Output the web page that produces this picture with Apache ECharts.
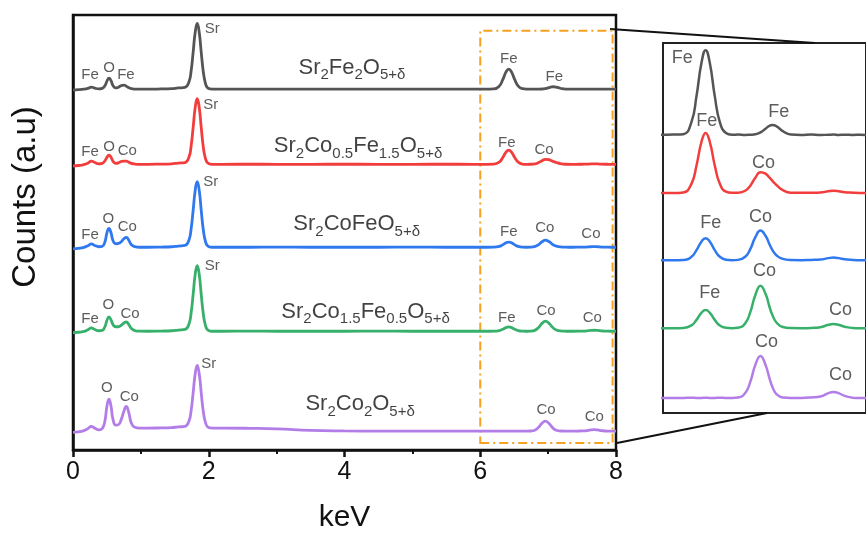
<!DOCTYPE html>
<html><head><meta charset="utf-8">
<script src="https://cdn.jsdelivr.net/npm/echarts@6/dist/echarts.min.js"></script>
<style>html,body{margin:0;padding:0;background:#fff}#c{width:866px;height:538px}</style>
</head><body><div id="c"></div>
<script>
// Energy grid (keV)
const energy = [0, 0.08, 0.16, 0.22, 0.27, 0.32, 0.38, 0.43, 0.47, 0.50, 0.53, 0.56, 0.59, 0.63, 0.67, 0.71, 0.75, 0.785, 0.82, 0.86, 0.91, 0.98, 1.1, 1.3, 1.45, 1.55, 1.65, 1.71, 1.74, 1.77, 1.80, 1.83, 1.86, 1.89, 1.92, 1.95, 1.98, 2.02,
  2.08, 2.2, 2.6, 3.0, 3.5, 4.0, 4.5, 5.0, 5.5, 5.9,
  6.1, 6.2, 6.28, 6.33, 6.38, 6.42, 6.46, 6.51, 6.56, 6.62, 6.68, 6.74, 6.81, 6.86, 6.91, 6.96, 7.01, 7.05, 7.08, 7.12, 7.18, 7.26, 7.36, 7.46, 7.55, 7.63, 7.68, 7.73, 7.79, 7.87, 7.94, 8.0];

// Counts (a.u.) above each spectrum's own baseline
const sr2fe2o5 = [-0.7, -0.5, 0, 0.8, 2, 1.0, 0.3, 0.8, 3.5, 8, 11, 8.5, 3.5, 1.2, 2, 3.6, 4, 3, 1.5, 0.5, 0.1, 0, 0, 0.2, 0.5, 1.2, 1.8, 7.6, 18.3, 36.9, 56.9, 66, 56.9, 36.4, 17.3, 6.1, 1.6, 0.2,
  0, 0, 0, 0.1, 0, 0, 0.1, 0, 0, 0,
  0.1, 0.2, 3.05, 9.25, 17.3, 20.2, 17.3, 9.25, 3.05, 0.45, 0.05, 0.1, 0, 0.05, 0.15, 0.6, 1.5, 2.2, 2.4, 2.06, 0.91, 0.1, 0, 0.1, 0, 0.05, 0.1, 0, 0.05, 0, 0.05, 0];
const sr2co05fe15o5 = [-1.7, -1.2, -0.3, 1.2, 3.3, 1.8, 0.5, 1.0, 3.5, 7, 9.3, 7.2, 3.0, 1.0, 1.5, 2.8, 3.3, 3.2, 2.2, 1.0, 0.3, 0, 0, 0.2, 0.5, 1.2, 1.8, 7.6, 18.3, 36.9, 56.9, 66, 56.9, 36.4, 17.3, 6.1, 1.6, 0.2,
  0, 0, 0.1, 0, 0, 0.1, 0, 0, 0.1, 0,
  0, 0.13, 2.16, 6.55, 12.25, 14.3, 12.25, 6.55, 2.16, 0.3, 0.02, 0.05, 0.51, 1.73, 3.64, 4.92, 4.6, 3.62, 2.82, 1.84, 0.69, 0.07, 0.02, 0.05, 0.11, 0.4, 0.5, 0.4, 0.17, 0.05, 0, 0];
const sr2cofeo5 = [-1.7, -1.2, -0.2, 1.5, 3.3, 1.8, 0.5, 0.8, 5.3, 14.5, 19, 14.5, 6.5, 3.5, 3.8, 5.5, 8.5, 10, 7.2, 2.5, 0.6, 0, 0, 0.2, 0.5, 1.2, 1.8, 7.6, 18.3, 36.9, 56.9, 66, 56.9, 36.4, 17.3, 6.1, 1.6, 0.2,
  0, 0, 0, 0.1, 0, 0, 0, 0.1, 0, 0,
  0, 0.05, 0.79, 2.38, 4.46, 5.2, 4.46, 2.38, 0.79, 0.11, 0, 0.06, 0.79, 2.63, 5.46, 7.05, 5.8, 3.71, 2.32, 1.1, 0.29, 0.03, 0, 0.05, 0.13, 0.48, 0.6, 0.48, 0.2, 0.05, 0, 0];
const sr2co15fe05o5 = [-1.3, -1, -0.2, 1.5, 3.3, 1.8, 0.5, 0.8, 4.5, 11, 14.3, 11.5, 6.5, 4.5, 4.5, 6, 8.3, 9.3, 7, 2.8, 0.7, 0.1, 0, 0.2, 0.5, 1.2, 1.8, 7.6, 18.3, 36.9, 56.9, 66, 56.9, 36.4, 17.3, 6.1, 1.6, 0.2,
  0, 0, 0.1, 0, 0, 0, 0.1, 0, 0, 0,
  0, 0.04, 0.65, 1.97, 3.69, 4.3, 3.69, 1.97, 0.65, 0.09, 0, 0.09, 1.14, 3.81, 7.89, 10.12, 8.17, 5.04, 2.99, 1.28, 0.28, 0.02, 0, 0.05, 0.22, 0.8, 1.0, 0.8, 0.34, 0.04, 0, 0];
const sr2co2o5 = [-1.3, -0.8, 0.5, 2.5, 4.7, 3, 1.3, 2.5, 10, 25, 32, 25, 11.5, 6, 6.5, 11.5, 20, 24.7, 19, 8, 3.8, 3, 3, 3.2, 3.5, 4.2, 4.8, 10.4, 20.5, 38.3, 57.3, 66, 57.3, 37.8, 19.5, 8.9, 4.5, 3.2,
  3, 3, 2.8, 2.3, 0.8, 0.2, 0, 0, 0, 0,
  0, 0, 0.05, 0, 0, 0.05, 0, 0, 0.05, 0, 0, 0.09, 1.14, 3.81, 7.86, 10, 7.86, 4.58, 2.49, 0.85, 0.09, 0, 0, 0.1, 0.31, 1.12, 1.4, 1.12, 0.48, 0.06, 0, 0];

const spectra = [sr2fe2o5, sr2co05fe15o5, sr2cofeo5, sr2co15fe05o5, sr2co2o5];
// vertical stacking offsets (main panel, inset panel)
const offsetsMain = [362.5, 287, 203.7, 119.3, 19];
const offsetsInset = [66.2, 52.4, 36.4, 20.2, 3.6];

// sample names (rich text with subscripts)
const formulas = ['Sr{s|2}Fe{s|2}O{s|5+δ}', 'Sr{s|2}Co{s|0.5}Fe{s|1.5}O{s|5+δ}', 'Sr{s|2}CoFeO{s|5+δ}', 'Sr{s|2}Co{s|1.5}Fe{s|0.5}O{s|5+δ}', 'Sr{s|2}Co{s|2}O{s|5+δ}'];
const formulaAnchors = [[4.11, 384], [4.20, 305.5], [4.18, 227], [4.31, 139], [4.23, 46]];

// peak annotations in main panel: [text, keV, y]
const peakLabels = [
  ['Fe', 0.25, 377], ['O', 0.53, 384], ['Fe', 0.78, 377], ['Sr', 2.05, 423], ['Fe', 6.42, 393], ['Fe', 7.09, 375],
  ['Fe', 0.25, 300], ['O', 0.53, 305], ['Co', 0.80, 301], ['Sr', 2.03, 347], ['Fe', 6.39, 309], ['Co', 6.94, 302],
  ['Fe', 0.25, 216], ['O', 0.52, 232], ['Co', 0.80, 224], ['Sr', 2.03, 269], ['Fe', 6.42, 219], ['Co', 6.95, 223], ['Co', 7.63, 217],
  ['Fe', 0.25, 132], ['O', 0.52, 146], ['Co', 0.84, 137], ['Sr', 2.05, 185], ['Fe', 6.39, 133], ['Co', 6.97, 140], ['Co', 7.65, 133],
  ['O', 0.50, 62], ['Co', 0.83, 53], ['Sr', 2.0, 87], ['Co', 6.97, 40], ['Co', 7.68, 33]
];
// peak annotations in inset: [text, keV, y]
const insetLabels = [
  ['Fe', 6.19, 84.5], ['Fe', 7.14, 71.7],
  ['Fe', 6.43, 69.5], ['Co', 6.99, 59.5],
  ['Fe', 6.47, 45.2], ['Co', 6.96, 46.7],
  ['Co', 7.0, 33.8], ['Fe', 6.46, 28.6], ['Co', 7.75, 24.5],
  ['Co', 7.02, 16.9], ['Co', 7.75, 9.0]
];

const colors = ['#555555', '#f23d3d', '#2f78ee', '#37b06b', '#b37de8'];
const FF = 'Arial, "Liberation Sans", sans-serif';

const series = [];
spectra.forEach((s, i) => {
  series.push({
    type: 'line', xAxisIndex: 0, yAxisIndex: 0,
    data: energy.map((e, k) => [e, s[k] + offsetsMain[i]]),
    symbol: 'none', smooth: 0.5,
    lineStyle: { color: colors[i], width: 2.8 }, silent: true, z: 3,
    markArea: i === 0 ? {
      silent: true,
      itemStyle: { color: 'rgba(0,0,0,0)', borderColor: '#f7a120', borderWidth: 2, borderType: [9, 4, 2, 4] },
      data: [[{ coord: [6.0, 7] }, { coord: [7.95, 421.3] }]]
    } : undefined
  });
  series.push({
    type: 'line', xAxisIndex: 1, yAxisIndex: 1,
    data: energy.map((e, k) => [e, s[k] + offsetsInset[i]]).filter(p => p[0] >= 5.9),
    symbol: 'none', smooth: 0.5,
    lineStyle: { color: colors[i], width: 2.5 }, silent: true, z: 3
  });
});
series.push({
  type: 'scatter', xAxisIndex: 0, yAxisIndex: 0, symbolSize: 1, silent: true, z: 5,
  itemStyle: { color: 'rgba(0,0,0,0)' },
  label: { show: true, position: 'inside', fontSize: 15, color: '#333', fontFamily: FF },
  data: peakLabels.map(l => ({ value: [l[1], l[2]], label: { formatter: l[0] } }))
});
series.push({
  type: 'scatter', xAxisIndex: 1, yAxisIndex: 1, symbolSize: 1, silent: true, z: 5,
  itemStyle: { color: 'rgba(0,0,0,0)' },
  label: { show: true, position: 'inside', fontSize: 18, color: '#333', fontFamily: FF },
  data: insetLabels.map(l => ({ value: [l[1], l[2]], label: { formatter: l[0] } }))
});
series.push({
  type: 'scatter', xAxisIndex: 0, yAxisIndex: 0, symbolSize: 1, silent: true, z: 5,
  itemStyle: { color: 'rgba(0,0,0,0)' },
  label: {
    show: true, position: 'inside', fontSize: 22, lineHeight: 30, color: '#111', fontFamily: FF,
    rich: { s: { fontSize: 15, lineHeight: 16, verticalAlign: 'bottom', color: '#111', fontFamily: FF } }
  },
  data: formulas.map((f, i) => ({ value: formulaAnchors[i], label: { formatter: f } }))
});

const chart = echarts.init(document.getElementById('c'), null, { renderer: 'canvas' });
chart.setOption({
  animation: false,
  backgroundColor: '#fff',
  grid: [
    { left: 73, top: 15, width: 543, height: 437, show: true, borderColor: '#111', borderWidth: 2.5, backgroundColor: 'rgba(0,0,0,0)' },
    { left: 663, top: 43, width: 205, height: 370, show: true, borderColor: '#222', borderWidth: 2, backgroundColor: 'rgba(0,0,0,0)' }
  ],
  xAxis: [
    {
      type: 'value', gridIndex: 0, min: 0, max: 8, interval: 2,
      axisLine: { show: true, lineStyle: { color: '#111', width: 2.5 } },
      axisTick: { show: true, length: 7, lineStyle: { color: '#111', width: 2.5 } },
      minorTick: { show: true, splitNumber: 2, length: 4, lineStyle: { color: '#111', width: 2 } },
      splitLine: { show: false },
      axisLabel: { fontSize: 25, color: '#111', margin: 10, fontFamily: FF },
      name: 'keV', nameLocation: 'middle', nameGap: 53,
      nameTextStyle: { fontSize: 30, color: '#111', fontFamily: FF }
    },
    { type: 'value', gridIndex: 1, min: 6, max: 8, show: false }
  ],
  yAxis: [
    {
      type: 'value', gridIndex: 0, min: 0, max: 437,
      axisLine: { show: true, lineStyle: { color: '#111', width: 2.5 } },
      axisTick: { show: false }, axisLabel: { show: false }, splitLine: { show: false }
    },
    { type: 'value', gridIndex: 1, min: 0, max: 88.1, show: false }
  ],
  graphic: [
    { type: 'text', x: 26, y: 197, rotation: Math.PI / 2,
      style: { text: 'Counts (a.u)', font: '33px ' + FF, fill: '#111', align: 'center', verticalAlign: 'middle' } },
    { type: 'line', shape: { x1: 610, y1: 29, x2: 815, y2: 43 }, style: { stroke: '#111', lineWidth: 2 } },
    { type: 'line', shape: { x1: 617, y1: 443, x2: 767, y2: 413 }, style: { stroke: '#111', lineWidth: 2 } }
  ],
  series: series
});
</script>
</body></html>
